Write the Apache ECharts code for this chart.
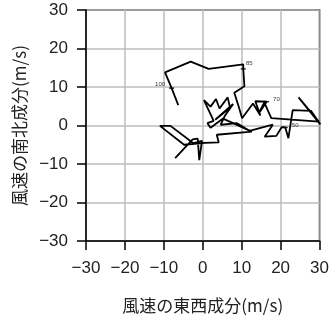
<!DOCTYPE html>
<html>
<head>
<meta charset="utf-8">
<script src="https://cdn.jsdelivr.net/npm/echarts@6/dist/echarts.min.js"></script>
<style>
html,body{margin:0;padding:0;background:#fff;}
#chart{width:332px;height:319px;}
</style>
</head>
<body>
<div id="chart"></div>
<script>
// Wind hodograph: east-west (u) and north-south (v) components, m/s
var uComp = [-7.1,-2.6,-1.3,-0.9,-0.2,-2.4,-8.3,-11.0,-4.8,0.5,4.1,3.6,12.6,5.2,2.0,1.2,2.8,0.3,2.0,3.4,4.3,6.4,7.0,3.2,7.8,5.6,4.6,8.8,12.0,18.0,15.9,18.9,20.3,21.2,22.0,23.1,27.8,30.2,24.6,29.8,17.6,15.8,14.3,16.4,13.5,14.8,12.9,10.1,9.2,8.1,10.7,10.4,10.4,1.5,-3.1,-9.7,-8.0,-6.3];
var vComp = [-8.5,-3.6,-3.4,-9.0,-4.0,-4.6,-0.1,-0.1,-5.0,-4.5,-4.4,-2.4,-1.6,1.8,-0.6,0.6,1.2,6.6,4.9,6.9,4.4,7.3,4.6,1.5,5.6,2.4,0.2,0.6,-1.4,0.2,-2.9,-2.7,-0.4,-0.5,-3.3,4.0,3.8,0.3,7.3,1.0,1.9,6.0,3.0,6.2,6.3,2.6,5.7,1.9,5.0,8.5,10.2,14.7,15.9,14.7,16.6,13.8,9.7,5.3];
var markIndex = [56, 51, 43, 33];
var markText = ['100', '85', '70', '50'];
var markPos = ['left', 'top', 'right', 'right'];
var xName = '風速の東西成分';
var yName = '風速の南北成分';
var unitName = '(m/s)';

var path = uComp.map(function (u, i) { return [u, vComp[i]]; });
var marks = markIndex.map(function (k, j) {
  return {
    value: [uComp[k], vComp[k]],
    label: { show: true, formatter: markText[j], position: markPos[j], distance: markPos[j] === 'top' ? 2 : 4,
      offset: markPos[j] === 'top' ? [6, 0] : (markPos[j] === 'left' ? [0, -4] : [0, -2]) }
  };
});

function fmt(v) { return v < 0 ? '\u2212' + Math.abs(v) : String(v); }
var axisFont = { fontFamily: 'Liberation Sans', fontSize: 17, color: '#222' };

var chart = echarts.init(document.getElementById('chart'), null, { renderer: 'canvas' });
chart.setOption({
  animation: false,
  backgroundColor: '#fff',
  grid: { left: 86, right: 10, top: 10, bottom: 74, show: true, borderColor: '#000', borderWidth: 1.5, backgroundColor: 'transparent' },
  xAxis: {
    type: 'value', min: -30, max: 30, interval: 10,
    axisLine: { show: true, onZero: false, lineStyle: { color: '#000', width: 1.5 } },
    axisTick: { show: true, length: 9, lineStyle: { color: '#000', width: 1.5 } },
    splitLine: { show: true, lineStyle: { color: '#bdbdbd', width: 1.5 } },
    axisLabel: Object.assign({ margin: 19, formatter: fmt }, axisFont),
    name: xName + unitName,
    nameLocation: 'middle', nameGap: 56,
    nameTextStyle: { fontFamily: 'Noto Sans CJK JP', fontSize: 17, color: '#222' }
  },
  yAxis: {
    type: 'value', min: -30, max: 30, interval: 10,
    axisLine: { show: true, onZero: false, lineStyle: { color: '#000', width: 1.5 } },
    axisTick: { show: true, length: 9, lineStyle: { color: '#000', width: 1.5 } },
    splitLine: { show: true, lineStyle: { color: '#bdbdbd', width: 1.5 } },
    axisLabel: Object.assign({ margin: 18, formatter: fmt }, axisFont),
    name: yName + unitName,
    nameLocation: 'middle', nameGap: 58, nameRotate: 90,
    nameTextStyle: { fontFamily: 'Noto Sans CJK JP', fontSize: 17, color: '#222' }
  },
  series: [
    {
      type: 'line', data: path, showSymbol: false, symbol: 'none',
      lineStyle: { color: '#000', width: 1.8 }, z: 3
    },
    {
      type: 'scatter', data: marks, symbol: 'rect', symbolSize: [5, 1.5],
      itemStyle: { color: '#000' },
      label: { fontFamily: 'Liberation Sans', fontSize: 6, color: '#000' }, z: 4
    }
  ]
});
</script>
</body>
</html>
